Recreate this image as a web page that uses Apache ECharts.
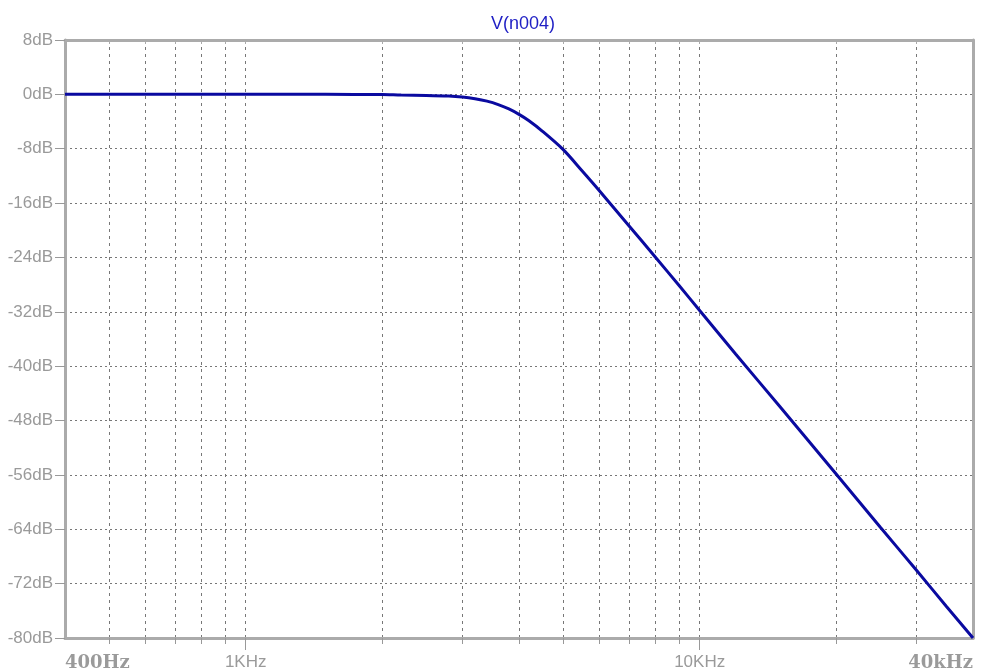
<!DOCTYPE html>
<html>
<head>
<meta charset="utf-8">
<script src="https://cdn.jsdelivr.net/npm/echarts@6/dist/echarts.min.js"></script>
<style>html,body{margin:0;padding:0;background:#fff;}#c{width:989px;height:672px;}</style>
</head>
<body>
<div id="c"></div>
<script>
var titleText = 'V(n004)';
var freqHz = [400, 500, 700, 1000, 1500, 2000, 2200, 2500, 2800, 3000, 3200, 3400, 3600, 3800, 4000, 4200, 4500, 5000, 5500, 6000, 7000, 8000, 9000, 10000, 12000, 15000, 20000, 25000, 30000, 35000, 40000];
var gainDb = [0, 0, 0, 0, 0, -0.02, -0.1, -0.15, -0.25, -0.4, -0.65, -1.0, -1.5, -2.15, -2.95, -3.85, -5.4, -8.1, -11.2, -14.1, -19.4, -24.0, -28.1, -31.8, -38.2, -45.9, -55.9, -63.7, -70.0, -75.4, -80.0];
var gridFreqs = [500, 600, 700, 800, 900, 1000, 2000, 3000, 4000, 5000, 6000, 7000, 8000, 9000, 10000, 20000, 30000];
var majorFreqs = [1000, 10000];
var labelFreqs = [400, 1000, 10000, 40000];
var labelTexts = ['400Hz', '1KHz', '10KHz', '40kHz'];
var labelStyles = ['s', 'n', 'n', 's'];
var yMin = -80, yMax = 8, yStep = 8;

var lg = function (f) { return Math.log10(f); };
var xMin = lg(400), xMax = lg(40000);

var chart = echarts.init(document.getElementById('c'), null, {renderer: 'canvas'});
var axisGray = '#ababab';
var sansFont = 'Liberation Sans';
var option = {
  animation: false,
  backgroundColor: '#ffffff',
  title: {
    text: titleText,
    left: 486, top: 10,
    textStyle: {fontFamily: sansFont, fontSize: 18, fontWeight: 'normal', color: '#1e1ec4'}
  },
  grid: {left: 65, right: 16, top: 40, bottom: 34, containLabel: false},
  xAxis: [
    {
      type: 'value', min: xMin, max: xMax, position: 'bottom',
      axisLine: {show: true, onZero: false, lineStyle: {color: axisGray, width: 3}},
      axisTick: {show: true, customValues: gridFreqs.map(lg), length: 6, lineStyle: {color: '#999', width: 1}},
      splitLine: {show: true, lineStyle: {color: '#777', width: 1, type: [3, 4]}},
      axisLabel: {
        show: true, customValues: labelFreqs.map(lg), margin: 16,
        alignMinLabel: 'left', alignMaxLabel: 'right',
        showMinLabel: true, showMaxLabel: true, hideOverlap: false,
        formatter: function (v) {
          for (var i = 0; i < labelFreqs.length; i++) {
            if (Math.abs(lg(labelFreqs[i]) - v) < 1e-6) return '{' + labelStyles[i] + '|' + labelTexts[i] + '}';
          }
          return '';
        },
        rich: {
          s: {fontFamily: 'DejaVu Serif', fontWeight: 'bold', fontSize: 18, color: '#9a9a9a'},
          n: {fontFamily: sansFont, fontSize: 17, color: '#9a9a9a'}
        }
      }
    },
    {
      type: 'value', min: xMin, max: xMax, position: 'bottom',
      axisLine: {show: false, onZero: false},
      axisTick: {show: true, customValues: majorFreqs.map(lg), length: 12, lineStyle: {color: '#999', width: 1}},
      splitLine: {show: false},
      axisLabel: {show: false}
    },
    {
      type: 'value', min: xMin, max: xMax, position: 'top',
      axisLine: {show: true, onZero: false, lineStyle: {color: axisGray, width: 3}},
      axisTick: {show: true, inside: true, customValues: gridFreqs.map(lg), length: 4, lineStyle: {color: '#aaa', width: 1}},
      splitLine: {show: false},
      axisLabel: {show: false}
    }
  ],
  yAxis: [
    {
      type: 'value', min: yMin, max: yMax, interval: yStep, position: 'left',
      axisLine: {show: true, onZero: false, lineStyle: {color: axisGray, width: 3}},
      axisTick: {show: true, length: 10, lineStyle: {color: '#999', width: 1}},
      splitLine: {show: true, lineStyle: {color: '#777', width: 1, type: [2, 3]}},
      axisLabel: {
        margin: 12, formatter: function (v) { return v + 'dB'; },
        fontFamily: sansFont, fontSize: 17, color: '#9a9a9a'
      }
    },
    {
      type: 'value', min: yMin, max: yMax, interval: yStep, position: 'right',
      axisLine: {show: true, onZero: false, lineStyle: {color: axisGray, width: 3}},
      axisTick: {show: false}, splitLine: {show: false}, axisLabel: {show: false}
    }
  ],
  series: [{
    type: 'line', xAxisIndex: 0, yAxisIndex: 0,
    data: freqHz.map(function (f, i) { return [lg(f), gainDb[i]]; }),
    showSymbol: false, smooth: 0.3, clip: true,
    lineStyle: {color: '#0a0aa0', width: 3}
  }]
};
chart.setOption(option);
</script>
</body>
</html>
